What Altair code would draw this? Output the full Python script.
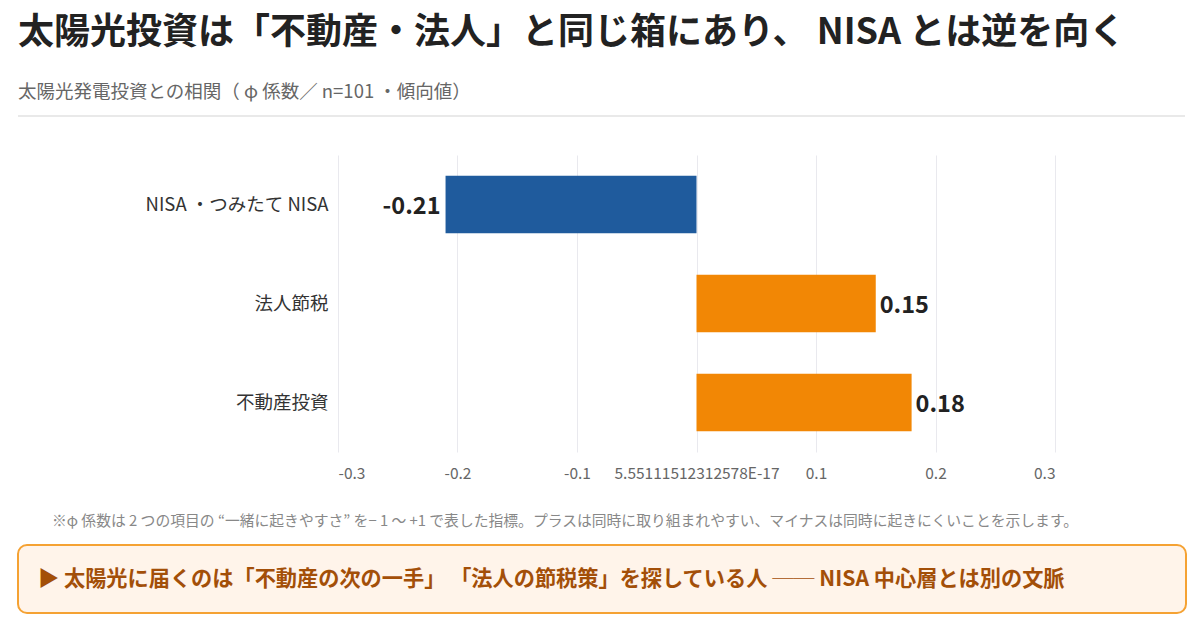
import altair as alt
import pandas as pd

# Correlation with solar-power investment (phi coefficient)
categories = ["NISA ・つみたて NISA", "法人節税", "不動産投資"]
phi_values = [-0.21, 0.15, 0.18]
bar_colors = ["#1f5b9d", "#f28705", "#f28705"]
labels = ["-0.21", "0.15", "0.18"]

tick_values = [-0.3, -0.2, -0.1, 0.0, 0.1, 0.2, 0.3]

title_text = "太陽光投資は「不動産・法人」と同じ箱にあり、 NISA とは逆を向く"
subtitle_text = "太陽光発電投資との相関（ φ 係数／ n=101 ・傾向値）"
note_text = "※φ 係数は 2 つの項目の “一緒に起きやすさ” を− 1 〜 +1 で表した指標。プラスは同時に取り組まれやすい、マイナスは同時に起きにくいことを示します。"
callout_text = "▶ 太陽光に届くのは「不動産の次の一手」 「法人の節税策」を探している人 ── NISA 中心層とは別の文脈"

FONT = "Noto Sans CJK JP"

df = pd.DataFrame({
    "category": categories,
    "phi": phi_values,
    "color": bar_colors,
    "label": labels,
})

zero_label = "5.55111512312578E-17"

x_scale = alt.Scale(domain=[-0.3, 0.3], nice=False, zero=False)
y_enc = alt.Y(
    "category:N",
    sort=categories,
    scale=alt.Scale(paddingInner=0.42, paddingOuter=0.21),
    axis=alt.Axis(
        title=None, domain=False, ticks=False, labelPadding=10, labelLimit=320,
        labelFontSize=18.5, labelColor="#333333", labelFont=FONT,
    ),
)

base = alt.Chart(df)

bars = base.mark_bar(cornerRadius=0).encode(
    x=alt.X(
        "phi:Q",
        scale=x_scale,
        axis=alt.Axis(
            title=None, values=tick_values, domain=False, ticks=False,
            labelPadding=14, labelFontSize=15.5, labelColor="#666666", labelFont=FONT,
            gridColor="#e9e9ee", gridWidth=1,
            labelExpr=f"abs(datum.value) < 1e-9 ? '{zero_label}' : '' + datum.value",
        ),
    ),
    x2=alt.datum(0),
    y=y_enc,
    color=alt.Color("color:N", scale=None),
)

neg_labels = base.transform_filter("datum.phi < 0").mark_text(
    align="right", baseline="middle", dx=-5, dy=2, fontSize=23.5, fontWeight="bold",
    font=FONT, color="#222222",
).encode(x=alt.X("phi:Q", scale=x_scale), y=alt.Y("category:N", sort=categories), text="label:N")

pos_labels = base.transform_filter("datum.phi >= 0").mark_text(
    align="left", baseline="middle", dx=4, dy=2, fontSize=23.5, fontWeight="bold",
    font=FONT, color="#222222",
).encode(x=alt.X("phi:Q", scale=x_scale), y=alt.Y("category:N", sort=categories), text="label:N")

# Page decorations positioned relative to the plot area (origin at its top-left)
L, T = 338, 155
one = pd.DataFrame({"k": [0]})

title = alt.Chart(one).mark_text(
    text=title_text, align="left", baseline="alphabetic", fontSize=36,
    fontWeight="bold", font=FONT, color="#222222",
).encode(x=alt.value(18 - L), y=alt.value(44 - T))

subtitle = alt.Chart(one).mark_text(
    text=subtitle_text, align="left", baseline="alphabetic", fontSize=18.5,
    font=FONT, color="#666666",
).encode(x=alt.value(18 - L), y=alt.value(98 - T))

divider = alt.Chart(one).mark_rule(color="#e2e2e2", strokeWidth=1.5).encode(
    x=alt.value(18 - L), x2=alt.value(1185 - L), y=alt.value(116 - T)
)

note = alt.Chart(one).mark_text(
    text=note_text, align="left", baseline="alphabetic", fontSize=14.8,
    font=FONT, color="#888888",
).encode(x=alt.value(52 - L), y=alt.value(526 - T))

box = alt.Chart(one).mark_rect(
    fill="#fff4ea", stroke="#f5a233", strokeWidth=2, cornerRadius=9,
).encode(
    x=alt.value(18 - L), x2=alt.value(1186 - L),
    y=alt.value(545 - T), y2=alt.value(613 - T),
)

callout = alt.Chart(one).mark_text(
    text=callout_text, align="left", baseline="middle", fontSize=21.2,
    fontWeight="bold", font=FONT, color="#a34f08",
).encode(x=alt.value(38 - L), y=alt.value(580 - T))

chart = alt.layer(
    bars, neg_labels, pos_labels, title, subtitle, divider, note, box, callout
).properties(
    width=1055 - L, height=452 - T,
    autosize=alt.AutoSizeParams(type="none"),
    padding={"left": L, "top": T, "right": 1200 - 1055, "bottom": 620 - 452},
    background="#ffffff",
).configure_view(stroke=None)

chart.save("out.html", embed_options={"renderer": "svg", "actions": False})
